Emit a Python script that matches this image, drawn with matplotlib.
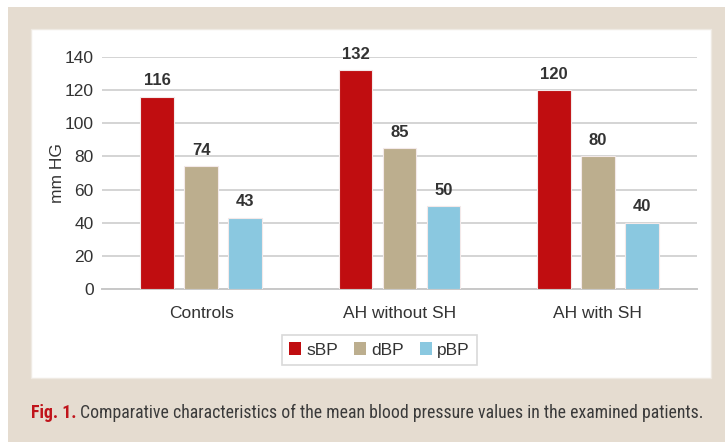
import matplotlib
matplotlib.use("Agg")
import matplotlib.pyplot as plt
from matplotlib.patches import Rectangle
from matplotlib import font_manager as fm
import numpy as np

categories = ["Controls", "AH without SH", "AH with SH"]
series_names = ["sBP", "dBP", "pBP"]
sbp = [116, 132, 120]
dbp = [74, 85, 80]
pbp = [43, 50, 40]
yticks = [0, 20, 40, 60, 80, 100, 120, 140]
colors = ["#C00D10", "#BCAE8E", "#8AC8E0"]

plt.rcParams['font.family'] = ['Liberation Sans', 'DejaVu Sans']
W, H = 725, 442
fig = plt.figure(figsize=(W/100, H/100), dpi=100)
fig.patch.set_facecolor("white")

def fx(px): return px / W
def fy(py): return 1 - py / H

# beige outer panel
fig.patches.append(Rectangle((fx(8), 0), 1 - fx(8), fy(7), transform=fig.transFigure,
                             facecolor="#E5DCD0", edgecolor="none", zorder=0))
# white inner panel
fig.patches.append(Rectangle((fx(31), fy(378)), fx(711) - fx(31), fy(29) - fy(378),
                             transform=fig.transFigure, facecolor="white",
                             edgecolor="#EFEAE3", linewidth=1, zorder=1))

ax = fig.add_axes([fx(102), fy(289), fx(697) - fx(102), fy(57) - fy(289)])
ax.set_zorder(3)
ax.set_facecolor("none")
x = np.arange(len(categories))
width = 0.171
offs = [-0.222, 0.0, 0.222]
tc = "#333333"
for vals, off, col, name in zip([sbp, dbp, pbp], offs, colors, series_names):
    bars = ax.bar(x + off, vals, width, color=col, edgecolor="#F3E9E9", linewidth=0.8,
                  label=name, zorder=3)
    for b, v in zip(bars, vals):
        ax.annotate(str(v), (b.get_x() + b.get_width()/2, v), xytext=(0, 6),
                    textcoords="offset points", ha="center", va="bottom",
                    fontsize=12, fontweight="bold", color=tc)

ax.set_xlim(-0.5, 2.5)
ax.set_ylim(0, 140)
ax.set_yticks(yticks)
ax.set_yticklabels([str(t) for t in yticks], fontsize=12.5, color=tc)
ax.set_xticks(x)
ax.set_xticklabels(categories, fontsize=12.5, color=tc)
ax.tick_params(axis="both", length=0)
ax.tick_params(axis="y", pad=6)
ax.tick_params(axis="x", pad=12)
ax.yaxis.grid(True, color="#D4D4D4", linewidth=1.4, zorder=0)
ax.set_axisbelow(True)
for s in ["top", "right", "left"]:
    ax.spines[s].set_visible(False)
ax.spines["bottom"].set_color("#C8C8C8")
ax.spines["bottom"].set_linewidth(1.4)
ax.set_ylabel("mm HG", fontsize=12.5, color=tc, labelpad=0)

leg = fig.legend(loc="center", bbox_to_anchor=(fx(379.5), fy(350)), ncol=3,
                 fontsize=12.5, frameon=True, fancybox=False, handlelength=0.7,
                 handleheight=0.7, handletextpad=0.3, columnspacing=0.9,
                 borderpad=0.4)
leg.set_zorder(4)
leg.get_frame().set_edgecolor("#D0D0D0")
leg.get_frame().set_linewidth(1.2)
for t in leg.get_texts():
    t.set_color(tc)
for h in leg.legend_handles:
    h.set_edgecolor("none")

# caption: prefer a condensed family if installed
names = {f.name for f in fm.fontManager.ttflist}
cap_family = "Liberation Sans"
for cand in ["Liberation Sans Narrow", "Arial Narrow", "Roboto Condensed", "DejaVu Sans Condensed"]:
    if cand in names:
        cap_family = cand
        break
cap_fs = 13.5
t1 = fig.text(fx(31), fy(413), "Fig. 1.", fontsize=cap_fs, fontweight="bold", color="#C0141B",
              ha="left", va="center", family=cap_family, zorder=5)
t2 = fig.text(fx(84), fy(413), "Comparative characteristics of the mean blood pressure values in the examined patients.",
              fontsize=cap_fs, color="#3A3A3A", ha="left", va="center",
              family=cap_family, zorder=5)
r = fig.canvas.get_renderer()
w2 = t2.get_window_extent(r).width
target = 705 - 84
if w2 > target:
    t2.set_fontsize(cap_fs * target / w2)
    t1.set_fontsize(cap_fs * target / w2)
    w1 = t1.get_window_extent(r).width
    t2.set_x(fx(31 + w1 + 4))

fig.savefig("out.png", dpi=100, facecolor=fig.get_facecolor())
